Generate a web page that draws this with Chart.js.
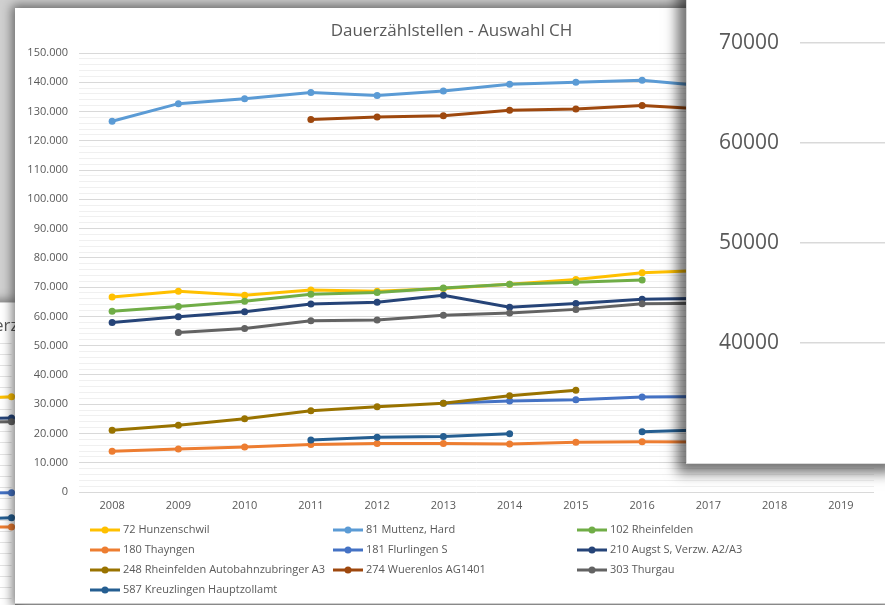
<!DOCTYPE html>
<html><head><meta charset="utf-8">
<script src="https://cdn.jsdelivr.net/npm/chart.js@4.4.0/dist/chart.umd.min.js"></script>
<style>
html,body{margin:0;padding:0;width:885px;height:605px;overflow:hidden;background:#d0d0d0;}
.panel{position:absolute;background:#fff;}
#leftP{left:-400px;top:302px;width:415px;height:310px;border-top:1px solid #d0d0d0;box-shadow:0 0 10px 2px rgba(0,0,0,.45);}
#mainP{left:15px;top:8px;width:872px;height:595px;box-shadow:0 0 10px 3px rgba(0,0,0,.5);border-bottom:1px solid #cfcfcf;}
#rightP{left:686px;top:-30px;width:210px;height:492px;border:1px solid #d9d9d9;box-shadow:-6px 6px 12px 3px rgba(0,0,0,.55);}
canvas{position:absolute;left:0;top:0;}
</style></head>
<body>
<div class="panel" id="leftP"><canvas id="cL" width="415" height="310"></canvas></div>
<div class="panel" id="mainP"><canvas id="cM" width="872" height="595"></canvas></div>
<div class="panel" id="rightP"><canvas id="cR" width="210" height="492"></canvas></div>
<script>
const titleText = 'Dauerzählstellen - Auswahl CH';
const years = ['2008','2009','2010','2011','2012','2013','2014','2015','2016','2017','2018','2019'];
const seriesNames = ['72 Hunzenschwil','81 Muttenz, Hard','102 Rheinfelden','180 Thayngen','181 Flurlingen S','210 Augst S, Verzw. A2/A3','248 Rheinfelden Autobahnzubringer A3','274 Wuerenlos AG1401','303 Thurgau','587 Kreuzlingen Hauptzollamt'];
const s72  = [66600, 68600, 67200, 69000, 68600, 69500, 71000, 72600, 74900, 75800, null, null];
const s81  = [126700, 132700, 134400, 136500, 135500, 137000, 139300, 140000, 140700, 138600, null, null];
const s102 = [61800, 63400, 65200, 67600, 68200, 69700, 71000, 71700, 72400, null, null, null];
const s180 = [13900, 14700, 15400, 16200, 16600, 16600, 16400, 17000, 17200, 17100, null, null];
const s181 = [null, null, null, null, null, 30300, 31100, 31500, 32500, 32600, null, null];
const s210 = [57900, 59900, 61600, 64200, 64800, 67200, 63100, 64400, 65900, 66200, null, null];
const s248 = [21100, 22800, 25000, 27800, 29100, 30300, 32900, 34800, null, null, null, null];
const s274 = [null, null, null, 127300, 128100, 128600, 130400, 130900, 132100, 130800, null, null];
const s303 = [null, 54500, 55900, 58500, 58800, 60400, 61200, 62400, 64300, 64500, null, null];
const s587 = [null, null, null, 17800, 18700, 19000, 19900, null, 20600, 21300, null, null];
const yMin = 0, yMax = 150000, yMajor = 10000, yMinor = 2000;
const rightTicks = [40000, 50000, 60000, 70000];

const seriesData = [s72, s81, s102, s180, s181, s210, s248, s274, s303, s587];
const colors = ['#FFC000','#5B9BD5','#70AD47','#ED7D31','#4472C4','#264478','#997300','#9E480E','#636363','#255E91'];
const FONT = "'Open Sans', 'Liberation Sans', sans-serif";
const TXT = '#595959';

function fmt(v){ return v === 0 ? '0' : String(v).replace(/\B(?=(\d{3})+(?!\d))/g, '.'); }

function makeDatasets(n){
  return seriesData.map((d, i) => ({
    label: seriesNames[i],
    data: n ? d.slice(0, n) : d,
    borderColor: colors[i],
    backgroundColor: colors[i],
    borderWidth: 3,
    pointRadius: 3.5,
    pointBorderWidth: 0,
    pointHoverRadius: 3.5,
    tension: 0,
    spanGaps: false,
    order: seriesData.length - i
  }));
}

const legendColX = [75, 318, 562];
const legendRowY = [522, 542, 562, 582];

const deco = {
  id: 'deco',
  afterDraw(chart){
    const c = chart.ctx;
    c.save();
    c.fillStyle = TXT;
    c.font = '17px ' + FONT;
    c.textAlign = 'center';
    c.textBaseline = 'middle';
    c.fillText(titleText, 436.5, 23);
    c.font = '11px ' + FONT;
    c.textAlign = 'left';
    chart.data.datasets.forEach((ds, i) => {
      const x = legendColX[i % 3], y = legendRowY[Math.floor(i / 3)];
      c.strokeStyle = ds.borderColor;
      c.lineWidth = 3;
      c.beginPath(); c.moveTo(x, y); c.lineTo(x + 30, y); c.stroke();
      c.fillStyle = ds.borderColor;
      c.beginPath(); c.arc(x + 15, y, 3.5, 0, Math.PI * 2); c.fill();
      c.fillStyle = TXT;
      c.fillText(ds.label, x + 33, y);
    });
    c.restore();
  }
};

new Chart(document.getElementById('cM'), {
  type: 'line',
  data: { labels: years, datasets: makeDatasets(0) },
  options: {
    responsive: false, animation: false,
    layout: { padding: { left: 0, top: 45, right: 13, bottom: 81 } },
    plugins: { legend: { display: false }, tooltip: { enabled: false }, title: { display: false } },
    scales: {
      x: {
        offset: true,
        grid: { display: false, drawTicks: false },
        border: { display: false },
        ticks: { color: TXT, font: { size: 11, family: FONT }, padding: 7, maxRotation: 0 },
        afterFit(s){ s.height = 30; }
      },
      y: {
        min: yMin, max: yMax,
        afterBuildTicks(s){ const t = []; for (let v = yMin; v <= yMax; v += yMinor) t.push({ value: v }); s.ticks = t; },
        ticks: { autoSkip: false, padding: 11, color: TXT, font: { size: 11, family: FONT },
                 callback: v => (v % yMajor === 0 ? fmt(v) : '') },
        grid: { drawTicks: false, lineWidth: 1, color: ctx => (ctx.tick && ctx.tick.value % yMajor === 0 ? '#d9d9d9' : '#f0f0f0') },
        border: { display: false },
        afterFit(s){ s.width = 64; }
      }
    }
  },
  plugins: [deco]
});

new Chart(document.getElementById('cR'), {
  type: 'line',
  data: { labels: [''], datasets: [] },
  options: {
    responsive: false, animation: false,
    layout: { padding: { left: 0, top: 31.8, right: 0, bottom: 21.2 } },
    plugins: { legend: { display: false }, tooltip: { enabled: false } },
    scales: {
      x: { display: false },
      y: {
        min: 31340, max: 73830,
        afterBuildTicks(s){ s.ticks = rightTicks.map(v => ({ value: v })); },
        ticks: { autoSkip: false, padding: 21, color: TXT, font: { size: 21, family: FONT }, callback: v => String(v) },
        grid: { drawTicks: false, color: '#d9d9d9', lineWidth: 1.5 },
        border: { display: false },
        afterFit(s){ s.width = 113; }
      }
    }
  }
});

const leftDeco = {
  id: 'leftDeco',
  afterDraw(chart){
    const c = chart.ctx;
    c.save();
    c.font = '17px ' + FONT;
    c.fillStyle = TXT;
    c.textBaseline = 'middle';
    c.textAlign = 'left';
    const w = c.measureText('Dau').width;
    c.fillText(titleText, 394 - w, 23);
    c.restore();
  }
};

new Chart(document.getElementById('cL'), {
  type: 'line',
  data: { labels: years.slice(0, 10), datasets: makeDatasets(10) },
  options: {
    responsive: false, animation: false,
    layout: { padding: { left: 0, top: 40, right: 0, bottom: 0 } },
    plugins: { legend: { display: false }, tooltip: { enabled: false } },
    scales: {
      x: { display: false, offset: false },
      y: {
        min: -20000, max: 100000,
        ticks: { display: false, stepSize: 5000 },
        grid: { drawTicks: false, color: '#e3e3e3' },
        border: { display: false },
        afterFit(s){ s.width = 0; }
      }
    }
  },
  plugins: [leftDeco]
});
</script>
</body></html>
